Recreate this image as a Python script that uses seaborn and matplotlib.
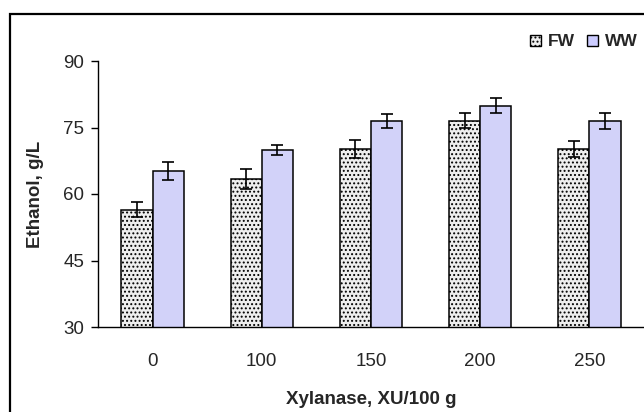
import numpy as np
import pandas as pd
import matplotlib
matplotlib.use("Agg")
import matplotlib.pyplot as plt
from matplotlib.patches import Rectangle, Patch
import seaborn as sns

DOSES = ["0", "100", "150", "200", "250"]
SERIES = ["FW", "WW"]
FW_MEAN = [56.4, 63.4, 70.1, 76.5, 70.1]
WW_MEAN = [65.2, 70.0, 76.5, 79.9, 76.5]
FW_ERR = [1.7, 2.3, 2.0, 1.7, 1.8]
WW_ERR = [2.0, 1.1, 1.5, 1.7, 1.8]
Y_TICKS = [30, 45, 60, 75, 90]

COLORS = {"FW": "#eeeeee", "WW": "#ccccff"}
HATCH = "...."

df = pd.DataFrame({
    "dose": DOSES * 2,
    "series": ["FW"] * 5 + ["WW"] * 5,
    "ethanol": FW_MEAN + WW_MEAN,
    "err": FW_ERR + WW_ERR,
})

sns.set_style("white")
plt.rcParams["font.family"] = ["Liberation Sans", "DejaVu Sans"]
plt.rcParams["hatch.color"] = "#555555"
plt.rcParams["hatch.linewidth"] = 0.9

fig = plt.figure(figsize=(6.44, 4.12), dpi=100)
ax = fig.add_axes([98 / 644, 1 - 327 / 412, 1 - 98 / 644, (327 - 61) / 412])

sns.barplot(
    data=df, x="dose", y="ethanol", hue="series",
    order=DOSES, hue_order=SERIES, palette=COLORS,
    width=0.57, errorbar=None, edgecolor="black", linewidth=1.1,
    legend=False, ax=ax,
)

# hatch FW bars + error bars placed on the drawn bars
for container, name in zip(ax.containers, SERIES):
    errs = FW_ERR if name == "FW" else WW_ERR
    for bar, e in zip(container, errs):
        if name == "FW":
            bar.set_hatch(HATCH)
        x = bar.get_x() + bar.get_width() / 2
        ax.errorbar(x, bar.get_height(), yerr=e, color="black",
                    capsize=4.2, capthick=1.2, elinewidth=1.2, zorder=5)

ax.set_ylim(30, 90)
ax.set_yticks(Y_TICKS)
ax.set_xlim(-0.5, 4.5)
ax.set_xticks(range(len(DOSES)))
ax.set_xticklabels(DOSES)
ax.set_xticks(np.arange(-0.5, 5, 1), minor=True)
ax.tick_params(axis="x", which="major", length=0, pad=19, labelsize=13.5)
ax.tick_params(axis="x", which="minor", length=5, width=1, direction="out", color="black")
ax.tick_params(axis="y", length=5, width=1, direction="out", color="black", labelsize=13.5, pad=5)
ax.tick_params(axis="both", bottom=True, left=True)

for s in ["top", "right"]:
    ax.spines[s].set_visible(False)
for s in ["left", "bottom"]:
    ax.spines[s].set_color("black")
    ax.spines[s].set_linewidth(1.0)

ax.set_xlabel("Xylanase, XU/100 g", fontsize=13.5, fontweight="bold", labelpad=15)
ax.set_ylabel("Ethanol, g/L", fontsize=13.5, fontweight="bold", labelpad=14)

handles = [Patch(facecolor=COLORS[n], edgecolor="black", hatch=HATCH if n == "FW" else None,
                 label=n) for n in SERIES]
fig.legend(handles=handles, loc="center right", bbox_to_anchor=(638 / 644, 1 - 42 / 412), ncol=2,
           frameon=False, prop={"weight": "bold", "size": 12.5},
           handlelength=0.65, handleheight=0.65, handletextpad=0.4, columnspacing=0.7,
           borderaxespad=0, borderpad=0)

# outer chart frame (cut off at right and bottom)
fig.patches.append(Rectangle((10 / 644, -0.1), 1.2, 1 - 14 / 412 + 0.1,
                             transform=fig.transFigure, fill=False,
                             edgecolor="black", linewidth=1.6))

fig.savefig("out.png", dpi=100)
